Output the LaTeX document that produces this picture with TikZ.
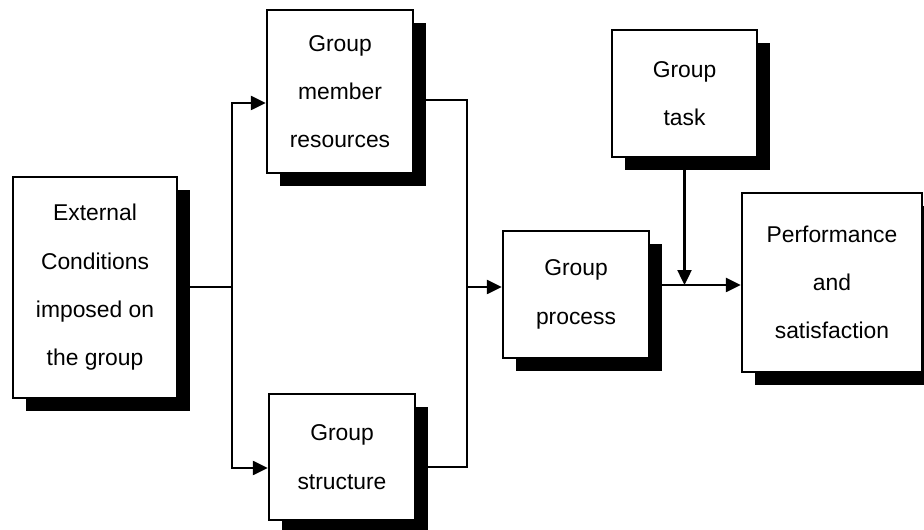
\documentclass[tikz,border=0pt]{standalone}
\usepackage{fontspec}
\setmainfont{Liberation Sans}
\usetikzlibrary{arrows.meta,calc,shadows}

\begin{document}
\begin{tikzpicture}[
  x=0.02cm, y=-0.02cm,
  font=\fontsize{13}{27.5}\selectfont,
  block/.style={draw, line width=1.4pt, fill=white, align=center, inner sep=0pt,
    drop shadow={shadow xshift=0.26cm, shadow yshift=-0.26cm, fill=black, opacity=1}},
  arr/.style={-{Triangle[length=3mm, width=2.8mm]}, line width=1.4pt},
  link/.style={line width=1.4pt}
]
\useasboundingbox (0,0) rectangle (924,530);
\node[block, minimum width=3.28cm, minimum height=4.42cm] (ext) at (95,287.5) {External\\Conditions\\imposed on\\the group};
\node[block, minimum width=2.92cm, minimum height=3.26cm] (member) at (340,91.5) {Group\\member\\resources};
\node[block, minimum width=2.92cm, minimum height=2.52cm] (struct) at (342,457) {Group\\structure};
\node[block, minimum width=2.92cm, minimum height=2.54cm] (process) at (576,294.5) {Group\\process};
\node[block, minimum width=2.90cm, minimum height=2.54cm] (task) at (684.5,93.5) {Group\\task};
\node[block, minimum width=3.60cm, minimum height=3.58cm] (perf) at (832,282.5) {Performance\\and\\satisfaction};
\coordinate (split) at (232,287);
\coordinate (merge) at (467,287);
\coordinate (join) at ($(task.south |- process.east)+(0,-9.5)$);
\draw[link] (ext.east |- split) -- (split);
\draw[arr] (split) |- ($(member.west)+(0,11.5)$);
\draw[arr] (split) |- ($(struct.west)+(0,11)$);
\draw[link] ($(member.east)+(0,8.5)$) -| (merge);
\draw[link] ($(struct.east)+(0,10)$) -| (merge);
\draw[arr] (merge) -- (process.west |- merge);
\draw[arr] (process.east |- join) -- (perf.west |- join);
\draw[arr] (task.south) -- (join);
\end{tikzpicture}
\end{document}
